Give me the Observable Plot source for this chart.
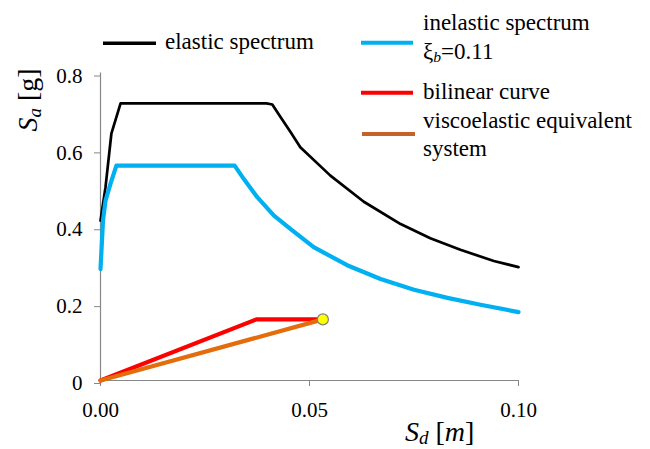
<!DOCTYPE html>
<html>
<head>
<meta charset="utf-8">
<script src="https://cdn.jsdelivr.net/npm/d3@7"></script>
<script src="https://cdn.jsdelivr.net/npm/@observablehq/plot@0.6"></script>
<style>
  html, body { margin: 0; padding: 0; background: #fff; }
  #chart { position: relative; width: 650px; height: 449px; overflow: hidden; }
  #chart svg { position: absolute; left: 0; top: 0; }
  .lbl { position: absolute; white-space: nowrap; color: #000; margin: 0; padding: 0; }
  .lbl .sub { font-size: 0.68em; position: relative; top: 0.2em; }
  .lbl .it { font-style: italic; }
</style>
</head>
<body>
<div id="chart"></div>
<script>
// ---- Data ----
const elasticSd = [0, 0.0012, 0.0026, 0.0048, 0.0397, 0.0411, 0.0431, 0.0455, 0.0478, 0.0550, 0.0630, 0.0718, 0.0789, 0.0861, 0.0941, 0.1000];
const elasticSa = [0.416, 0.503, 0.642, 0.721, 0.721, 0.718, 0.685, 0.646, 0.607, 0.533, 0.465, 0.407, 0.370, 0.340, 0.311, 0.295];

const inelasticSd = [0, 0.0006, 0.0012, 0.0024, 0.0038, 0.0321, 0.0343, 0.0375, 0.0415, 0.0455, 0.0510, 0.0590, 0.0670, 0.0750, 0.0830, 0.0909, 0.1000];
const inelasticSa = [0.290, 0.416, 0.468, 0.512, 0.559, 0.559, 0.524, 0.477, 0.429, 0.394, 0.347, 0.300, 0.264, 0.236, 0.215, 0.197, 0.178];

const bilinearSd = [0, 0.0373, 0.0532];
const bilinearSa = [0, 0.159, 0.159];

const viscoSd = [0, 0.0532];
const viscoSa = [0, 0.159];

const performancePoint = [{sd: 0.0532, sa: 0.159}];

const xTicks = [0, 0.05, 0.10];
const yTicks = [0, 0.2, 0.4, 0.6, 0.8];

const seriesNames = ["elastic spectrum", "inelastic spectrum", "bilinear curve", "viscoelastic equivalent", "system"];
const seriesColors = ["#000000", "#00b0f0", "#ff0000", "#e46c0a"];

const toRows = (xs, ys) => xs.map((x, i) => ({sd: x, sa: ys[i]}));
const elastic = toRows(elasticSd, elasticSa);
const inelastic = toRows(inelasticSd, inelasticSa);
const bilinear = toRows(bilinearSd, bilinearSa);
const visco = toRows(viscoSd, viscoSa);

const axisGray = "#878787";
const FONT = "'Liberation Serif', serif";

const plot = Plot.plot({
  width: 650,
  height: 449,
  marginLeft: 100,
  marginRight: 132,
  marginTop: 72.5,
  marginBottom: 69,
  style: {background: "white", overflow: "visible"},
  x: {domain: [0, 0.1]},
  y: {domain: [0, 0.8]},
  marks: [
    Plot.ruleX([0], {stroke: axisGray, strokeWidth: 1.2}),
    Plot.ruleY([0], {stroke: axisGray, strokeWidth: 1.2}),
    Plot.axisX({ticks: xTicks, tickFormat: d3.format(".2f"), tickSize: 6, tickPadding: 16, fontSize: 21, stroke: axisGray, fill: "black", label: null}),
    Plot.axisY({ticks: yTicks, tickFormat: d => d === 0 ? "0" : d3.format(".1f")(d), tickSize: 6, tickPadding: 12, fontSize: 21, dy: 3, stroke: axisGray, fill: "black", label: null}),
    Plot.line(elastic, {x: "sd", y: "sa", stroke: seriesColors[0], strokeWidth: 2.7, strokeLinejoin: "round"}),
    Plot.line(inelastic, {x: "sd", y: "sa", stroke: seriesColors[1], strokeWidth: 4.2, strokeLinejoin: "round"}),
    Plot.line(bilinear, {x: "sd", y: "sa", stroke: seriesColors[2], strokeWidth: 4.2, strokeLinejoin: "round"}),
    Plot.line(visco, {x: "sd", y: "sa", stroke: seriesColors[3], strokeWidth: 4.2, strokeLinejoin: "round"}),
    Plot.dot(performancePoint, {x: "sd", y: "sa", r: 5.5, fill: "#ffff00", stroke: "#7f7f7f", strokeWidth: 1.2})
  ]
});

const chart = document.getElementById("chart");
chart.appendChild(plot);

const svg = d3.select(plot);
plot.style.setProperty("font-family", FONT, "important");
svg.selectAll("g, text, tspan").each(function() {
  this.setAttribute("font-family", "Liberation Serif");
  this.style.setProperty("font-family", FONT, "important");
});

// ---- legend swatches ----
const swatches = [
  {color: seriesColors[0], x1: 103, x2: 156, y: 43.3, w: 3.5},
  {color: seriesColors[1], x1: 361, x2: 413, y: 42.7, w: 4},
  {color: seriesColors[2], x1: 361, x2: 413, y: 92.7, w: 4},
  {color: "#c4622a", x1: 362, x2: 415, y: 134, w: 4}
];
const g = svg.append("g");
swatches.forEach(s => {
  g.append("line").attr("x1", s.x1).attr("x2", s.x2).attr("y1", s.y).attr("y2", s.y)
    .attr("stroke", s.color).attr("stroke-width", s.w);
});

// ---- HTML text (titles and legend labels) ----
function label(html, x, baseline, fs) {
  const d = document.createElement("div");
  d.className = "lbl";
  d.style.setProperty("font-family", FONT, "important");
  d.style.fontSize = fs + "px";
  d.style.lineHeight = fs + "px";
  d.style.left = x + "px";
  d.style.top = (baseline - 0.8375 * fs) + "px";
  d.innerHTML = html;
  d.querySelectorAll("span").forEach(s => s.style.setProperty("font-family", FONT, "important"));
  chart.appendChild(d);
  return d;
}

const LF = 23;
label(seriesNames[0], 165, 49.5, LF);
label(seriesNames[1], 423, 30, LF);
label('ξ<span class="sub it">b</span>=0.11', 423, 59, LF);
label(seriesNames[2], 423, 99, LF);
label(seriesNames[3], 423, 128.5, LF);
label(seriesNames[4], 423, 156.5, LF);

// x-axis title
label('<span class="it">S</span><span class="sub it">d</span> [<span class="it">m</span>]', 405, 441, 28);

// y-axis title (rotated)
const yt = label('<span class="it">S</span><span class="sub it">a</span> [g]', 0, 0, 28);
yt.style.left = (37 - 0.8375 * 28) + "px";
yt.style.top = "100px";
yt.style.transformOrigin = "0 0";
yt.style.transform = "rotate(-90deg) translateX(-50%)";
</script>
</body>
</html>
